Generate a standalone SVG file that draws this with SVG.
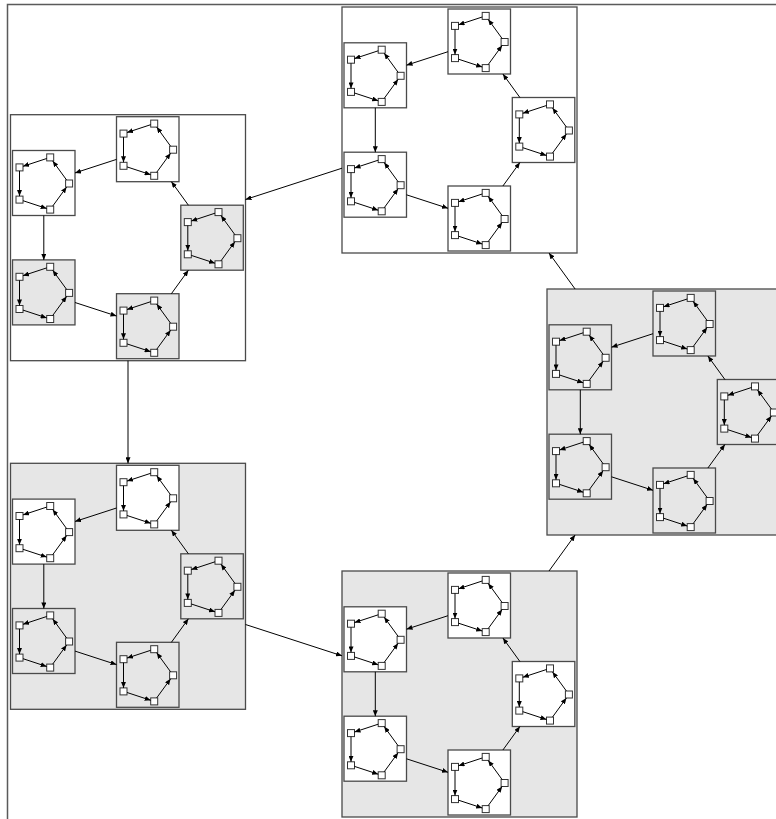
<svg xmlns="http://www.w3.org/2000/svg" width="776" height="819" viewBox="0 0 776 819">
<style>
.frame{fill:none;stroke:#5a5a5a;stroke-width:1.5}
.b{stroke:#4a4a4a;stroke-width:1.3}
.m{stroke:#4a4a4a;stroke-width:1.3}
.w{fill:#ffffff}
.g{fill:#e6e6e6}
.n{fill:#ffffff;stroke:#333333;stroke-width:1}
#connectors path{fill:none;stroke:#000000;stroke-width:1;marker-end:url(#arr)}
</style>
<defs>
<marker id="arr" markerUnits="userSpaceOnUse" viewBox="0 0 6 5" markerWidth="6" markerHeight="5" refX="6" refY="2.5" orient="auto"><path d="M0,0L6,2.5L0,5z" fill="#000"/></marker>
</defs>
<rect class="frame" x="7.5" y="4.5" width="820" height="840"/>

<g id="C1" transform="translate(342,7)">
<rect class="b w" width="235" height="246"/>
<g id="C1_1" transform="translate(106,2)"><rect class="m w" width="62.5" height="65"/><g id="C1_1_a"><rect class="n" x="34.2" y="3.4" width="7" height="7"/></g><g id="C1_1_b"><rect class="n" x="3.5" y="13.4" width="7" height="7"/></g><g id="C1_1_c"><rect class="n" x="3.5" y="45.6" width="7" height="7"/></g><g id="C1_1_d"><rect class="n" x="34.2" y="55.6" width="7" height="7"/></g><g id="C1_1_e"><rect class="n" x="53.1" y="29.5" width="7" height="7"/></g></g>
<g id="C1_2" transform="translate(2,35.8)"><rect class="m w" width="62.5" height="65"/><g id="C1_2_a"><rect class="n" x="34.2" y="3.4" width="7" height="7"/></g><g id="C1_2_b"><rect class="n" x="3.5" y="13.4" width="7" height="7"/></g><g id="C1_2_c"><rect class="n" x="3.5" y="45.6" width="7" height="7"/></g><g id="C1_2_d"><rect class="n" x="34.2" y="55.6" width="7" height="7"/></g><g id="C1_2_e"><rect class="n" x="53.1" y="29.5" width="7" height="7"/></g></g>
<g id="C1_3" transform="translate(2,145.2)"><rect class="m w" width="62.5" height="65"/><g id="C1_3_a"><rect class="n" x="34.2" y="3.4" width="7" height="7"/></g><g id="C1_3_b"><rect class="n" x="3.5" y="13.4" width="7" height="7"/></g><g id="C1_3_c"><rect class="n" x="3.5" y="45.6" width="7" height="7"/></g><g id="C1_3_d"><rect class="n" x="34.2" y="55.6" width="7" height="7"/></g><g id="C1_3_e"><rect class="n" x="53.1" y="29.5" width="7" height="7"/></g></g>
<g id="C1_4" transform="translate(106,179)"><rect class="m w" width="62.5" height="65"/><g id="C1_4_a"><rect class="n" x="34.2" y="3.4" width="7" height="7"/></g><g id="C1_4_b"><rect class="n" x="3.5" y="13.4" width="7" height="7"/></g><g id="C1_4_c"><rect class="n" x="3.5" y="45.6" width="7" height="7"/></g><g id="C1_4_d"><rect class="n" x="34.2" y="55.6" width="7" height="7"/></g><g id="C1_4_e"><rect class="n" x="53.1" y="29.5" width="7" height="7"/></g></g>
<g id="C1_5" transform="translate(170.3,90.5)"><rect class="m w" width="62.5" height="65"/><g id="C1_5_a"><rect class="n" x="34.2" y="3.4" width="7" height="7"/></g><g id="C1_5_b"><rect class="n" x="3.5" y="13.4" width="7" height="7"/></g><g id="C1_5_c"><rect class="n" x="3.5" y="45.6" width="7" height="7"/></g><g id="C1_5_d"><rect class="n" x="34.2" y="55.6" width="7" height="7"/></g><g id="C1_5_e"><rect class="n" x="53.1" y="29.5" width="7" height="7"/></g></g>
</g>

<g id="C2" transform="translate(10.5,114.7)">
<rect class="b w" width="235" height="246"/>
<g id="C2_1" transform="translate(106,2)"><rect class="m w" width="62.5" height="65"/><g id="C2_1_a"><rect class="n" x="34.2" y="3.4" width="7" height="7"/></g><g id="C2_1_b"><rect class="n" x="3.5" y="13.4" width="7" height="7"/></g><g id="C2_1_c"><rect class="n" x="3.5" y="45.6" width="7" height="7"/></g><g id="C2_1_d"><rect class="n" x="34.2" y="55.6" width="7" height="7"/></g><g id="C2_1_e"><rect class="n" x="53.1" y="29.5" width="7" height="7"/></g></g>
<g id="C2_2" transform="translate(2,35.8)"><rect class="m w" width="62.5" height="65"/><g id="C2_2_a"><rect class="n" x="34.2" y="3.4" width="7" height="7"/></g><g id="C2_2_b"><rect class="n" x="3.5" y="13.4" width="7" height="7"/></g><g id="C2_2_c"><rect class="n" x="3.5" y="45.6" width="7" height="7"/></g><g id="C2_2_d"><rect class="n" x="34.2" y="55.6" width="7" height="7"/></g><g id="C2_2_e"><rect class="n" x="53.1" y="29.5" width="7" height="7"/></g></g>
<g id="C2_3" transform="translate(2,145.2)"><rect class="m g" width="62.5" height="65"/><g id="C2_3_a"><rect class="n" x="34.2" y="3.4" width="7" height="7"/></g><g id="C2_3_b"><rect class="n" x="3.5" y="13.4" width="7" height="7"/></g><g id="C2_3_c"><rect class="n" x="3.5" y="45.6" width="7" height="7"/></g><g id="C2_3_d"><rect class="n" x="34.2" y="55.6" width="7" height="7"/></g><g id="C2_3_e"><rect class="n" x="53.1" y="29.5" width="7" height="7"/></g></g>
<g id="C2_4" transform="translate(106,179)"><rect class="m g" width="62.5" height="65"/><g id="C2_4_a"><rect class="n" x="34.2" y="3.4" width="7" height="7"/></g><g id="C2_4_b"><rect class="n" x="3.5" y="13.4" width="7" height="7"/></g><g id="C2_4_c"><rect class="n" x="3.5" y="45.6" width="7" height="7"/></g><g id="C2_4_d"><rect class="n" x="34.2" y="55.6" width="7" height="7"/></g><g id="C2_4_e"><rect class="n" x="53.1" y="29.5" width="7" height="7"/></g></g>
<g id="C2_5" transform="translate(170.3,90.5)"><rect class="m g" width="62.5" height="65"/><g id="C2_5_a"><rect class="n" x="34.2" y="3.4" width="7" height="7"/></g><g id="C2_5_b"><rect class="n" x="3.5" y="13.4" width="7" height="7"/></g><g id="C2_5_c"><rect class="n" x="3.5" y="45.6" width="7" height="7"/></g><g id="C2_5_d"><rect class="n" x="34.2" y="55.6" width="7" height="7"/></g><g id="C2_5_e"><rect class="n" x="53.1" y="29.5" width="7" height="7"/></g></g>
</g>

<g id="C3" transform="translate(10.5,463.3)">
<rect class="b g" width="235" height="246"/>
<g id="C3_1" transform="translate(106,2)"><rect class="m w" width="62.5" height="65"/><g id="C3_1_a"><rect class="n" x="34.2" y="3.4" width="7" height="7"/></g><g id="C3_1_b"><rect class="n" x="3.5" y="13.4" width="7" height="7"/></g><g id="C3_1_c"><rect class="n" x="3.5" y="45.6" width="7" height="7"/></g><g id="C3_1_d"><rect class="n" x="34.2" y="55.6" width="7" height="7"/></g><g id="C3_1_e"><rect class="n" x="53.1" y="29.5" width="7" height="7"/></g></g>
<g id="C3_2" transform="translate(2,35.8)"><rect class="m w" width="62.5" height="65"/><g id="C3_2_a"><rect class="n" x="34.2" y="3.4" width="7" height="7"/></g><g id="C3_2_b"><rect class="n" x="3.5" y="13.4" width="7" height="7"/></g><g id="C3_2_c"><rect class="n" x="3.5" y="45.6" width="7" height="7"/></g><g id="C3_2_d"><rect class="n" x="34.2" y="55.6" width="7" height="7"/></g><g id="C3_2_e"><rect class="n" x="53.1" y="29.5" width="7" height="7"/></g></g>
<g id="C3_3" transform="translate(2,145.2)"><rect class="m g" width="62.5" height="65"/><g id="C3_3_a"><rect class="n" x="34.2" y="3.4" width="7" height="7"/></g><g id="C3_3_b"><rect class="n" x="3.5" y="13.4" width="7" height="7"/></g><g id="C3_3_c"><rect class="n" x="3.5" y="45.6" width="7" height="7"/></g><g id="C3_3_d"><rect class="n" x="34.2" y="55.6" width="7" height="7"/></g><g id="C3_3_e"><rect class="n" x="53.1" y="29.5" width="7" height="7"/></g></g>
<g id="C3_4" transform="translate(106,179)"><rect class="m g" width="62.5" height="65"/><g id="C3_4_a"><rect class="n" x="34.2" y="3.4" width="7" height="7"/></g><g id="C3_4_b"><rect class="n" x="3.5" y="13.4" width="7" height="7"/></g><g id="C3_4_c"><rect class="n" x="3.5" y="45.6" width="7" height="7"/></g><g id="C3_4_d"><rect class="n" x="34.2" y="55.6" width="7" height="7"/></g><g id="C3_4_e"><rect class="n" x="53.1" y="29.5" width="7" height="7"/></g></g>
<g id="C3_5" transform="translate(170.3,90.5)"><rect class="m g" width="62.5" height="65"/><g id="C3_5_a"><rect class="n" x="34.2" y="3.4" width="7" height="7"/></g><g id="C3_5_b"><rect class="n" x="3.5" y="13.4" width="7" height="7"/></g><g id="C3_5_c"><rect class="n" x="3.5" y="45.6" width="7" height="7"/></g><g id="C3_5_d"><rect class="n" x="34.2" y="55.6" width="7" height="7"/></g><g id="C3_5_e"><rect class="n" x="53.1" y="29.5" width="7" height="7"/></g></g>
</g>

<g id="C4" transform="translate(342,571)">
<rect class="b g" width="235" height="246"/>
<g id="C4_1" transform="translate(106,2)"><rect class="m w" width="62.5" height="65"/><g id="C4_1_a"><rect class="n" x="34.2" y="3.4" width="7" height="7"/></g><g id="C4_1_b"><rect class="n" x="3.5" y="13.4" width="7" height="7"/></g><g id="C4_1_c"><rect class="n" x="3.5" y="45.6" width="7" height="7"/></g><g id="C4_1_d"><rect class="n" x="34.2" y="55.6" width="7" height="7"/></g><g id="C4_1_e"><rect class="n" x="53.1" y="29.5" width="7" height="7"/></g></g>
<g id="C4_2" transform="translate(2,35.8)"><rect class="m w" width="62.5" height="65"/><g id="C4_2_a"><rect class="n" x="34.2" y="3.4" width="7" height="7"/></g><g id="C4_2_b"><rect class="n" x="3.5" y="13.4" width="7" height="7"/></g><g id="C4_2_c"><rect class="n" x="3.5" y="45.6" width="7" height="7"/></g><g id="C4_2_d"><rect class="n" x="34.2" y="55.6" width="7" height="7"/></g><g id="C4_2_e"><rect class="n" x="53.1" y="29.5" width="7" height="7"/></g></g>
<g id="C4_3" transform="translate(2,145.2)"><rect class="m w" width="62.5" height="65"/><g id="C4_3_a"><rect class="n" x="34.2" y="3.4" width="7" height="7"/></g><g id="C4_3_b"><rect class="n" x="3.5" y="13.4" width="7" height="7"/></g><g id="C4_3_c"><rect class="n" x="3.5" y="45.6" width="7" height="7"/></g><g id="C4_3_d"><rect class="n" x="34.2" y="55.6" width="7" height="7"/></g><g id="C4_3_e"><rect class="n" x="53.1" y="29.5" width="7" height="7"/></g></g>
<g id="C4_4" transform="translate(106,179)"><rect class="m w" width="62.5" height="65"/><g id="C4_4_a"><rect class="n" x="34.2" y="3.4" width="7" height="7"/></g><g id="C4_4_b"><rect class="n" x="3.5" y="13.4" width="7" height="7"/></g><g id="C4_4_c"><rect class="n" x="3.5" y="45.6" width="7" height="7"/></g><g id="C4_4_d"><rect class="n" x="34.2" y="55.6" width="7" height="7"/></g><g id="C4_4_e"><rect class="n" x="53.1" y="29.5" width="7" height="7"/></g></g>
<g id="C4_5" transform="translate(170.3,90.5)"><rect class="m w" width="62.5" height="65"/><g id="C4_5_a"><rect class="n" x="34.2" y="3.4" width="7" height="7"/></g><g id="C4_5_b"><rect class="n" x="3.5" y="13.4" width="7" height="7"/></g><g id="C4_5_c"><rect class="n" x="3.5" y="45.6" width="7" height="7"/></g><g id="C4_5_d"><rect class="n" x="34.2" y="55.6" width="7" height="7"/></g><g id="C4_5_e"><rect class="n" x="53.1" y="29.5" width="7" height="7"/></g></g>
</g>

<g id="C5" transform="translate(547,289)">
<rect class="b g" width="235" height="246"/>
<g id="C5_1" transform="translate(106,2)"><rect class="m g" width="62.5" height="65"/><g id="C5_1_a"><rect class="n" x="34.2" y="3.4" width="7" height="7"/></g><g id="C5_1_b"><rect class="n" x="3.5" y="13.4" width="7" height="7"/></g><g id="C5_1_c"><rect class="n" x="3.5" y="45.6" width="7" height="7"/></g><g id="C5_1_d"><rect class="n" x="34.2" y="55.6" width="7" height="7"/></g><g id="C5_1_e"><rect class="n" x="53.1" y="29.5" width="7" height="7"/></g></g>
<g id="C5_2" transform="translate(2,35.8)"><rect class="m g" width="62.5" height="65"/><g id="C5_2_a"><rect class="n" x="34.2" y="3.4" width="7" height="7"/></g><g id="C5_2_b"><rect class="n" x="3.5" y="13.4" width="7" height="7"/></g><g id="C5_2_c"><rect class="n" x="3.5" y="45.6" width="7" height="7"/></g><g id="C5_2_d"><rect class="n" x="34.2" y="55.6" width="7" height="7"/></g><g id="C5_2_e"><rect class="n" x="53.1" y="29.5" width="7" height="7"/></g></g>
<g id="C5_3" transform="translate(2,145.2)"><rect class="m g" width="62.5" height="65"/><g id="C5_3_a"><rect class="n" x="34.2" y="3.4" width="7" height="7"/></g><g id="C5_3_b"><rect class="n" x="3.5" y="13.4" width="7" height="7"/></g><g id="C5_3_c"><rect class="n" x="3.5" y="45.6" width="7" height="7"/></g><g id="C5_3_d"><rect class="n" x="34.2" y="55.6" width="7" height="7"/></g><g id="C5_3_e"><rect class="n" x="53.1" y="29.5" width="7" height="7"/></g></g>
<g id="C5_4" transform="translate(106,179)"><rect class="m g" width="62.5" height="65"/><g id="C5_4_a"><rect class="n" x="34.2" y="3.4" width="7" height="7"/></g><g id="C5_4_b"><rect class="n" x="3.5" y="13.4" width="7" height="7"/></g><g id="C5_4_c"><rect class="n" x="3.5" y="45.6" width="7" height="7"/></g><g id="C5_4_d"><rect class="n" x="34.2" y="55.6" width="7" height="7"/></g><g id="C5_4_e"><rect class="n" x="53.1" y="29.5" width="7" height="7"/></g></g>
<g id="C5_5" transform="translate(170.3,90.5)"><rect class="m g" width="62.5" height="65"/><g id="C5_5_a"><rect class="n" x="34.2" y="3.4" width="7" height="7"/></g><g id="C5_5_b"><rect class="n" x="3.5" y="13.4" width="7" height="7"/></g><g id="C5_5_c"><rect class="n" x="3.5" y="45.6" width="7" height="7"/></g><g id="C5_5_d"><rect class="n" x="34.2" y="55.6" width="7" height="7"/></g><g id="C5_5_e"><rect class="n" x="53.1" y="29.5" width="7" height="7"/></g></g>
</g>

<g id="connectors">
<path d="M342,168.2L245.5,199.5"/>
<path d="M128,360.7L128,463.3"/>
<path d="M245.5,624.5L342,655.8"/>
<path d="M549,571L575.1,535"/>
<path d="M575.1,289L549,253"/>

<g transform="translate(342,7)">
<path d="M106,44.7L64.5,58.2"/><path d="M33.3,100.8L33.3,145.2"/><path d="M64.5,187.8L106,201.3"/><path d="M160.9,179L177.9,155.5"/><path d="M177.9,90.5L160.9,67"/>
<g transform="translate(106,2)"><path d="M34.2,8L10.5,15.8"/><path d="M7,20.4L7,45.6"/><path d="M10.5,50.2L34.2,58"/><path d="M40.2,55.6L54.1,36.5"/><path d="M54.1,29.5L40.2,10.4"/></g>
<g transform="translate(2,35.8)"><path d="M34.2,8L10.5,15.8"/><path d="M7,20.4L7,45.6"/><path d="M10.5,50.2L34.2,58"/><path d="M40.2,55.6L54.1,36.5"/><path d="M54.1,29.5L40.2,10.4"/></g>
<g transform="translate(2,145.2)"><path d="M34.2,8L10.5,15.8"/><path d="M7,20.4L7,45.6"/><path d="M10.5,50.2L34.2,58"/><path d="M40.2,55.6L54.1,36.5"/><path d="M54.1,29.5L40.2,10.4"/></g>
<g transform="translate(106,179)"><path d="M34.2,8L10.5,15.8"/><path d="M7,20.4L7,45.6"/><path d="M10.5,50.2L34.2,58"/><path d="M40.2,55.6L54.1,36.5"/><path d="M54.1,29.5L40.2,10.4"/></g>
<g transform="translate(170.3,90.5)"><path d="M34.2,8L10.5,15.8"/><path d="M7,20.4L7,45.6"/><path d="M10.5,50.2L34.2,58"/><path d="M40.2,55.6L54.1,36.5"/><path d="M54.1,29.5L40.2,10.4"/></g>
</g>

<g transform="translate(10.5,114.7)">
<path d="M106,44.7L64.5,58.2"/><path d="M33.3,100.8L33.3,145.2"/><path d="M64.5,187.8L106,201.3"/><path d="M160.9,179L177.9,155.5"/><path d="M177.9,90.5L160.9,67"/>
<g transform="translate(106,2)"><path d="M34.2,8L10.5,15.8"/><path d="M7,20.4L7,45.6"/><path d="M10.5,50.2L34.2,58"/><path d="M40.2,55.6L54.1,36.5"/><path d="M54.1,29.5L40.2,10.4"/></g>
<g transform="translate(2,35.8)"><path d="M34.2,8L10.5,15.8"/><path d="M7,20.4L7,45.6"/><path d="M10.5,50.2L34.2,58"/><path d="M40.2,55.6L54.1,36.5"/><path d="M54.1,29.5L40.2,10.4"/></g>
<g transform="translate(2,145.2)"><path d="M34.2,8L10.5,15.8"/><path d="M7,20.4L7,45.6"/><path d="M10.5,50.2L34.2,58"/><path d="M40.2,55.6L54.1,36.5"/><path d="M54.1,29.5L40.2,10.4"/></g>
<g transform="translate(106,179)"><path d="M34.2,8L10.5,15.8"/><path d="M7,20.4L7,45.6"/><path d="M10.5,50.2L34.2,58"/><path d="M40.2,55.6L54.1,36.5"/><path d="M54.1,29.5L40.2,10.4"/></g>
<g transform="translate(170.3,90.5)"><path d="M34.2,8L10.5,15.8"/><path d="M7,20.4L7,45.6"/><path d="M10.5,50.2L34.2,58"/><path d="M40.2,55.6L54.1,36.5"/><path d="M54.1,29.5L40.2,10.4"/></g>
</g>

<g transform="translate(10.5,463.3)">
<path d="M106,44.7L64.5,58.2"/><path d="M33.3,100.8L33.3,145.2"/><path d="M64.5,187.8L106,201.3"/><path d="M160.9,179L177.9,155.5"/><path d="M177.9,90.5L160.9,67"/>
<g transform="translate(106,2)"><path d="M34.2,8L10.5,15.8"/><path d="M7,20.4L7,45.6"/><path d="M10.5,50.2L34.2,58"/><path d="M40.2,55.6L54.1,36.5"/><path d="M54.1,29.5L40.2,10.4"/></g>
<g transform="translate(2,35.8)"><path d="M34.2,8L10.5,15.8"/><path d="M7,20.4L7,45.6"/><path d="M10.5,50.2L34.2,58"/><path d="M40.2,55.6L54.1,36.5"/><path d="M54.1,29.5L40.2,10.4"/></g>
<g transform="translate(2,145.2)"><path d="M34.2,8L10.5,15.8"/><path d="M7,20.4L7,45.6"/><path d="M10.5,50.2L34.2,58"/><path d="M40.2,55.6L54.1,36.5"/><path d="M54.1,29.5L40.2,10.4"/></g>
<g transform="translate(106,179)"><path d="M34.2,8L10.5,15.8"/><path d="M7,20.4L7,45.6"/><path d="M10.5,50.2L34.2,58"/><path d="M40.2,55.6L54.1,36.5"/><path d="M54.1,29.5L40.2,10.4"/></g>
<g transform="translate(170.3,90.5)"><path d="M34.2,8L10.5,15.8"/><path d="M7,20.4L7,45.6"/><path d="M10.5,50.2L34.2,58"/><path d="M40.2,55.6L54.1,36.5"/><path d="M54.1,29.5L40.2,10.4"/></g>
</g>

<g transform="translate(342,571)">
<path d="M106,44.7L64.5,58.2"/><path d="M33.3,100.8L33.3,145.2"/><path d="M64.5,187.8L106,201.3"/><path d="M160.9,179L177.9,155.5"/><path d="M177.9,90.5L160.9,67"/>
<g transform="translate(106,2)"><path d="M34.2,8L10.5,15.8"/><path d="M7,20.4L7,45.6"/><path d="M10.5,50.2L34.2,58"/><path d="M40.2,55.6L54.1,36.5"/><path d="M54.1,29.5L40.2,10.4"/></g>
<g transform="translate(2,35.8)"><path d="M34.2,8L10.5,15.8"/><path d="M7,20.4L7,45.6"/><path d="M10.5,50.2L34.2,58"/><path d="M40.2,55.6L54.1,36.5"/><path d="M54.1,29.5L40.2,10.4"/></g>
<g transform="translate(2,145.2)"><path d="M34.2,8L10.5,15.8"/><path d="M7,20.4L7,45.6"/><path d="M10.5,50.2L34.2,58"/><path d="M40.2,55.6L54.1,36.5"/><path d="M54.1,29.5L40.2,10.4"/></g>
<g transform="translate(106,179)"><path d="M34.2,8L10.5,15.8"/><path d="M7,20.4L7,45.6"/><path d="M10.5,50.2L34.2,58"/><path d="M40.2,55.6L54.1,36.5"/><path d="M54.1,29.5L40.2,10.4"/></g>
<g transform="translate(170.3,90.5)"><path d="M34.2,8L10.5,15.8"/><path d="M7,20.4L7,45.6"/><path d="M10.5,50.2L34.2,58"/><path d="M40.2,55.6L54.1,36.5"/><path d="M54.1,29.5L40.2,10.4"/></g>
</g>

<g transform="translate(547,289)">
<path d="M106,44.7L64.5,58.2"/><path d="M33.3,100.8L33.3,145.2"/><path d="M64.5,187.8L106,201.3"/><path d="M160.9,179L177.9,155.5"/><path d="M177.9,90.5L160.9,67"/>
<g transform="translate(106,2)"><path d="M34.2,8L10.5,15.8"/><path d="M7,20.4L7,45.6"/><path d="M10.5,50.2L34.2,58"/><path d="M40.2,55.6L54.1,36.5"/><path d="M54.1,29.5L40.2,10.4"/></g>
<g transform="translate(2,35.8)"><path d="M34.2,8L10.5,15.8"/><path d="M7,20.4L7,45.6"/><path d="M10.5,50.2L34.2,58"/><path d="M40.2,55.6L54.1,36.5"/><path d="M54.1,29.5L40.2,10.4"/></g>
<g transform="translate(2,145.2)"><path d="M34.2,8L10.5,15.8"/><path d="M7,20.4L7,45.6"/><path d="M10.5,50.2L34.2,58"/><path d="M40.2,55.6L54.1,36.5"/><path d="M54.1,29.5L40.2,10.4"/></g>
<g transform="translate(106,179)"><path d="M34.2,8L10.5,15.8"/><path d="M7,20.4L7,45.6"/><path d="M10.5,50.2L34.2,58"/><path d="M40.2,55.6L54.1,36.5"/><path d="M54.1,29.5L40.2,10.4"/></g>
<g transform="translate(170.3,90.5)"><path d="M34.2,8L10.5,15.8"/><path d="M7,20.4L7,45.6"/><path d="M10.5,50.2L34.2,58"/><path d="M40.2,55.6L54.1,36.5"/><path d="M54.1,29.5L40.2,10.4"/></g>
</g>
</g>
</svg>
